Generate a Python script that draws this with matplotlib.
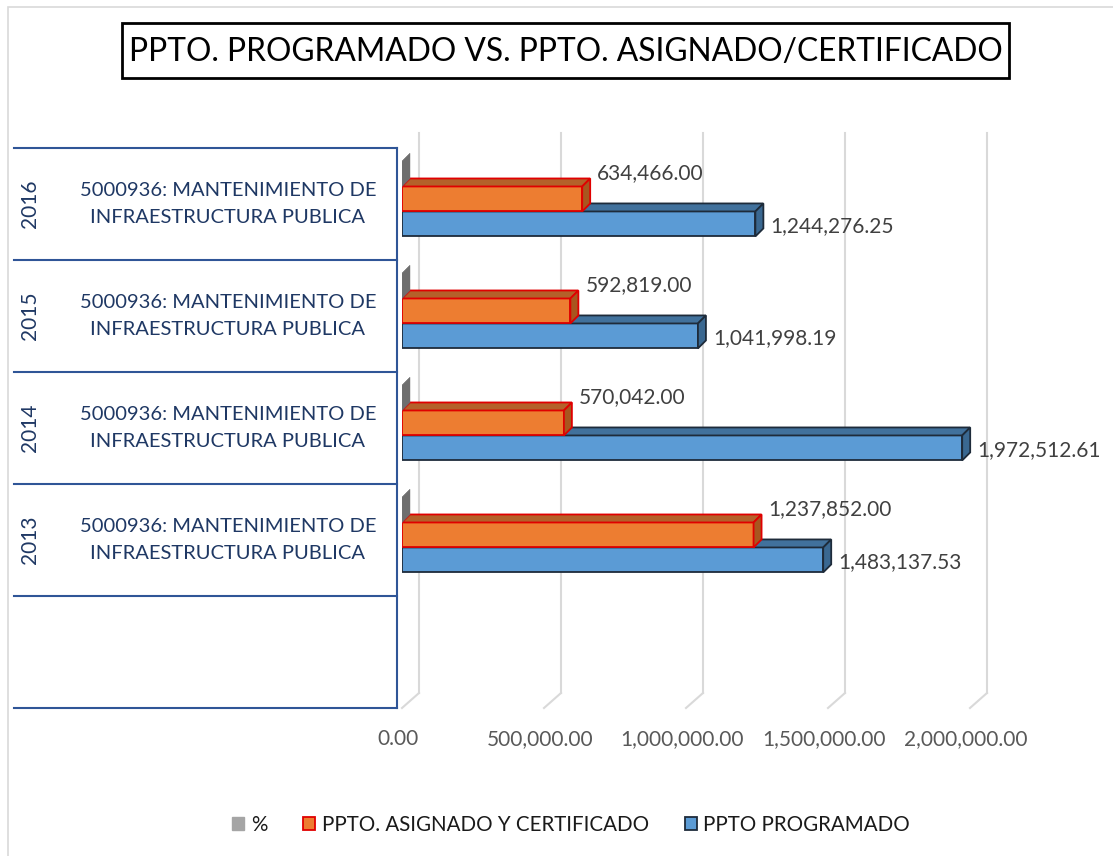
import matplotlib
matplotlib.use("Agg")
import matplotlib.pyplot as plt
import matplotlib.transforms as mtransforms
from matplotlib.patches import Polygon, Patch, Rectangle

plt.rcParams['font.family'] = ['Lato', 'DejaVu Sans']

# datos
anios = ['2013', '2014', '2015', '2016']
actividad = '5000936: MANTENIMIENTO DE\nINFRAESTRUCTURA PUBLICA'
ppto_programado = [1483137.53, 1972512.61, 1041998.19, 1244276.25]
ppto_asignado = [1237852.00, 570042.00, 592819.00, 634466.00]
porcentaje = [0.83, 0.29, 0.57, 0.51]
ticks = [0, 500000, 1000000, 1500000, 2000000]

W, H = 1113, 856
fig = plt.figure(figsize=(W / 100, H / 100), dpi=100)

# area de barras (x=0 en px 402, 142 px por 500,000)
ax_w = 600
ax = fig.add_axes([402 / W, (H - 708) / H, ax_w / W, 560 / H])
xmax = ax_w * 500000 / 142
ax.set_xlim(0, xmax)
ax.set_ylim(-0.5, 4.5)
for s in ax.spines.values():
    s.set_visible(False)
ax.set_yticks([])
ax.set_xticks(ticks)
ax.set_xticklabels(['{:,.2f}'.format(t) for t in ticks])
ax.tick_params(axis='x', length=0, pad=15, labelsize=15, labelcolor='#595959')
shift = mtransforms.ScaledTranslation(-4 / 100, 0, fig.dpi_scale_trans)
for lab in ax.get_xticklabels():
    lab.set_transform(lab.get_transform() + shift)

# profundidad 3D
ddx = 8 * xmax / ax_w
ddy = 8 / 112
h = 0.223
off = 0.045

# lineas de cuadricula (plano de fondo + diagonal)
back = mtransforms.offset_copy(ax.transData, fig=fig, x=17, y=15, units='dots')
for t in ticks:
    ax.plot([t, t], [-0.5, 4.5], color='#D9D9D9', lw=1.5, transform=back,
            clip_on=False, zorder=0)
    p_back = back.transform((t, -0.5))
    p_front = ax.transData.transform((t, -0.5))
    ax.plot([p_back[0], p_front[0]], [p_back[1], p_front[1]], color='#D9D9D9',
            lw=1.5, transform=None, clip_on=False, zorder=0)


def bar3d(y, w, face, top, side, edge, lw):
    ax.barh(y, w, height=h, color=face, edgecolor=edge, linewidth=lw, zorder=2)
    y0, y1 = y - h / 2, y + h / 2
    ax.add_patch(Polygon([(0, y1), (w, y1), (w + ddx, y1 + ddy), (ddx, y1 + ddy)],
                         closed=True, facecolor=top, edgecolor=edge, lw=lw, zorder=2))
    ax.add_patch(Polygon([(w, y0), (w, y1), (w + ddx, y1 + ddy), (w + ddx, y0 + ddy)],
                         closed=True, facecolor=side, edgecolor=edge, lw=lw, zorder=2))


for i in range(len(anios)):
    c = i + 1 + off
    yb, yo, yg = c - h, c, c + h
    bar3d(yb, ppto_programado[i], '#5B9BD5', '#41719C', '#3A6891', '#1E2B3A', 1.3)
    bar3d(yo, ppto_asignado[i], '#ED7D31', '#B4612A', '#A8561F', '#E00000', 1.3)
    bar3d(yg, porcentaje[i], '#A5A5A5', '#8C8C8C', '#6E6E6E', '#6E6E6E', 0.3)
    ax.annotate('{:,.2f}'.format(ppto_programado[i]), (ppto_programado[i], yb),
                xytext=(15, -2), textcoords='offset pixels', va='center',
                ha='left', fontsize=15, color='#404040', zorder=3)
    ax.annotate('{:,.2f}'.format(ppto_asignado[i]), (ppto_asignado[i], yg),
                xytext=(15, 1), textcoords='offset pixels', va='center',
                ha='left', fontsize=15, color='#404040', zorder=3)

# tabla de categorias a la izquierda
blend = mtransforms.blended_transform_factory(fig.transFigure, ax.transData)
for k in range(6):
    ax.plot([14 / W, 397 / W], [k - 0.5, k - 0.5], color='#2F5597', lw=1.5,
            transform=blend, clip_on=False)
ax.plot([397 / W, 397 / W], [-0.5, 4.5], color='#2F5597', lw=1.5,
        transform=blend, clip_on=False)
for i, a in enumerate(anios):
    ax.text(30 / W, i + 1, a, rotation=90, ha='center', va='center',
            fontsize=15, color='#1F3864', transform=blend)
    ax.text(228 / W, i + 1, actividad, ha='center', va='center', fontsize=14.5,
            color='#1F3864', transform=blend, linespacing=1.75)

# titulo con recuadro
fig.patches.append(Rectangle((122 / W, 1 - 78 / H), (1009 - 122) / W, 55 / H,
                             transform=fig.transFigure, fill=False,
                             edgecolor='black', lw=2))
fig.text(566 / W, 1 - 52 / H, 'PPTO. PROGRAMADO VS. PPTO. ASIGNADO/CERTIFICADO',
         ha='center', va='center', fontsize=22.9, color='black')

# borde del grafico
fig.patches.append(Rectangle((8 / W, -0.1), 1.2, 1 - 7 / H + 0.1,
                             transform=fig.transFigure, fill=False,
                             edgecolor='#D9D9D9', lw=1.2))

handles = [Patch(facecolor='#A5A5A5', edgecolor='#A5A5A5'),
           Patch(facecolor='#ED7D31', edgecolor='#E00000', lw=1.3),
           Patch(facecolor='#5B9BD5', edgecolor='#1E2B3A', lw=1.3)]
fig.legend(handles, ['%', 'PPTO. ASIGNADO Y CERTIFICADO', 'PPTO PROGRAMADO'],
           loc='center', bbox_to_anchor=(571 / W, 1 - 825 / H), ncol=3,
           frameon=False, fontsize=14.8, handlelength=0.6, handleheight=0.6,
           handletextpad=0.3, columnspacing=1.75, labelcolor='#1A1A1A')

fig.savefig('out.png', dpi=100)
